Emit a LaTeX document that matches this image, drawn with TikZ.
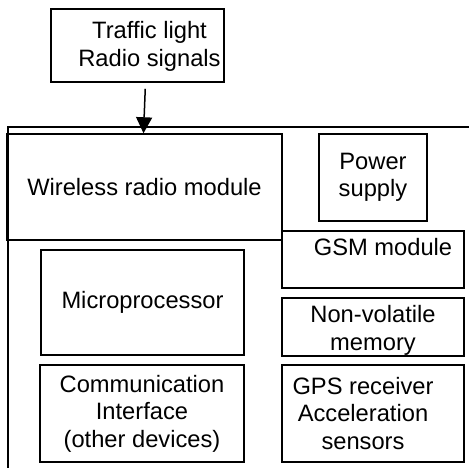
\documentclass[tikz,border=0pt]{standalone}
\usepackage{fontspec}
\setmainfont{Liberation Sans}
\usetikzlibrary{arrows.meta}

\begin{document}
\begin{tikzpicture}[x=1pt,y=-1pt,font=\fontsize{23.7}{27.5}\selectfont,
  box/.style={draw,line width=1.5pt,inner sep=0pt,align=center},
  txt/.style={align=center},
  sig/.style={-{Triangle[length=16pt,width=16pt]},line width=1.5pt,shorten <=6pt}]
\useasboundingbox (0,0) rectangle (469,467);
\clip (0,0) rectangle (469,467);
\def\L{142.5}\def\R{373}
% open unit frame, runs past the page
\node[box,anchor=north west,minimum width=480pt,minimum height=360pt](unit) at (7,126){};
\node[box,minimum width=173pt,minimum height=73pt,
  label={[txt,xshift=12pt,yshift=-1pt]center:{Traffic light\\Radio signals}}](signals) at (137.5,45.5){};
\node[box,minimum width=275pt,minimum height=106pt](radio) at (144.5,187){Wireless radio module};
\node[box,minimum width=108pt,minimum height=87pt](power) at (\R,177.5){Power\\supply};
\node[box,minimum width=182pt,minimum height=57pt,
  label={[txt,xshift=10pt,yshift=12.5pt]center:GSM module}](gsm) at (\R,259.5){};
\node[box,minimum width=203pt,minimum height=105pt](cpu) at (\L,302.5){Microprocessor};
\node[box,minimum width=204pt,minimum height=97pt](comm) at (142,413.5){Communication\\Interface\\(other devices)};
\node[box,minimum width=182pt,minimum height=58pt,
  label={[txt,yshift=-3.5pt]center:{Non-volatile\\memory}}](mem) at (\R,327){};
\node[box,minimum width=182pt,minimum height=97pt,
  label={[txt,xshift=-10pt]center:{GPS receiver\\Acceleration\\sensors}}](gps) at (\R,413.5){};

\draw[sig]([xshift=8pt]signals.south)--([xshift=-1pt]radio.north);
\end{tikzpicture}
\end{document}
